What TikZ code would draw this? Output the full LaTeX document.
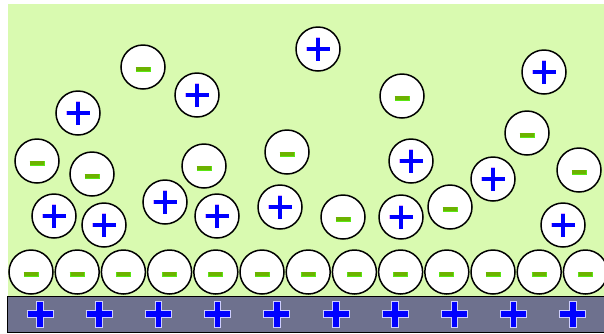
\documentclass[tikz,border=0pt]{standalone}
\usetikzlibrary{calc}
\definecolor{bggreen}{RGB}{217,250,176}
\definecolor{bargray}{RGB}{110,113,142}
\definecolor{minusdark}{RGB}{108,178,0}
\definecolor{minuslight}{RGB}{90,230,20}
\definecolor{plushalo}{RGB}{225,170,255}
\definecolor{barhalo}{RGB}{205,205,255}
\tikzset{
  ion/.style={circle, draw=black, line width=1.5pt, fill=white, minimum size=44pt, inner sep=0pt},
  posion/.style={ion, path picture={
      \draw[plushalo, line width=4.6pt] ($(path picture bounding box.center)+(-12pt,0pt)$) -- ++(24pt,0pt);
      \draw[plushalo, line width=4.6pt] ($(path picture bounding box.center)+(0pt,-12pt)$) -- ++(0pt,24pt);
      \draw[blue, line width=3.4pt] ($(path picture bounding box.center)+(-11.5pt,0pt)$) -- ++(23pt,0pt);
      \draw[blue, line width=3.4pt] ($(path picture bounding box.center)+(0pt,-11.5pt)$) -- ++(0pt,23pt);}},
  negion/.style={ion, path picture={
      \draw[minuslight, line width=5pt] ($(path picture bounding box.center)+(-7.5pt,-2pt)$) -- ++(15pt,0pt);
      \draw[minusdark, line width=3.2pt] ($(path picture bounding box.center)+(-6.6pt,-2pt)$) -- ++(13.2pt,0pt);}},
  barplus/.style={rectangle, minimum size=30pt, inner sep=0pt, path picture={
      \draw[barhalo, line width=7.5pt] ($(path picture bounding box.center)+(-13.5pt,0pt)$) -- ++(27pt,0pt);
      \draw[barhalo, line width=7.5pt] ($(path picture bounding box.center)+(0pt,-13.5pt)$) -- ++(0pt,27pt);
      \draw[blue, line width=5.6pt] ($(path picture bounding box.center)+(-12.5pt,0pt)$) -- ++(25pt,0pt);
      \draw[blue, line width=5.6pt] ($(path picture bounding box.center)+(0pt,-12.5pt)$) -- ++(0pt,25pt);}},
}
\begin{document}
\begin{tikzpicture}[x=1pt,y=-1pt]
\useasboundingbox (0,0) rectangle (604,333);
\fill[white] (0,0) rectangle (604,333);
\fill[bggreen] (8,4) rectangle (604,296);
\draw[black, line width=1pt, fill=bargray] (7.5,296) rectangle (605,332);
% plus charges in the electrode
\foreach \i in {0,...,9}{
  \node[barplus] (q\i) at ({40+59.2*\i},314) {};
}
% adsorbed layer of negative ions
\foreach \i in {0,...,12}{
  \node[negion] (b\i) at ({31+46.2*\i},272) {};
}
% diffuse layer
\node[negion] (n1) at (143,67) {};
\node[posion] (p1) at (197,95) {};
\node[posion] (p2) at (78,113) {};
\node[negion] (n2) at (37,161) {};
\node[negion] (n3) at (92,174) {};
\node[negion] (n4) at (204,166) {};
\node[posion] (p3) at (165,202) {};
\node[posion] (p4) at (54,216) {};
\node[posion] (p5) at (104,225) {};
\node[posion] (p6) at (217,216) {};
\node[posion] (p7) at (318,49) {};
\node[posion] (p8) at (544,72) {};
\node[negion] (n5) at (402,96) {};
\node[negion] (n6) at (527,133) {};
\node[negion] (n7) at (287,152) {};
\node[posion] (p9) at (411,161) {};
\node[negion] (n8) at (579,170) {};
\node[posion] (p10) at (493,179) {};
\node[posion] (p11) at (280,207) {};
\node[negion] (n9) at (343,217) {};
\node[posion] (p12) at (401,217) {};
\node[negion] (n10) at (450,207) {};
\node[posion] (p13) at (563,225) {};
\end{tikzpicture}
\end{document}
